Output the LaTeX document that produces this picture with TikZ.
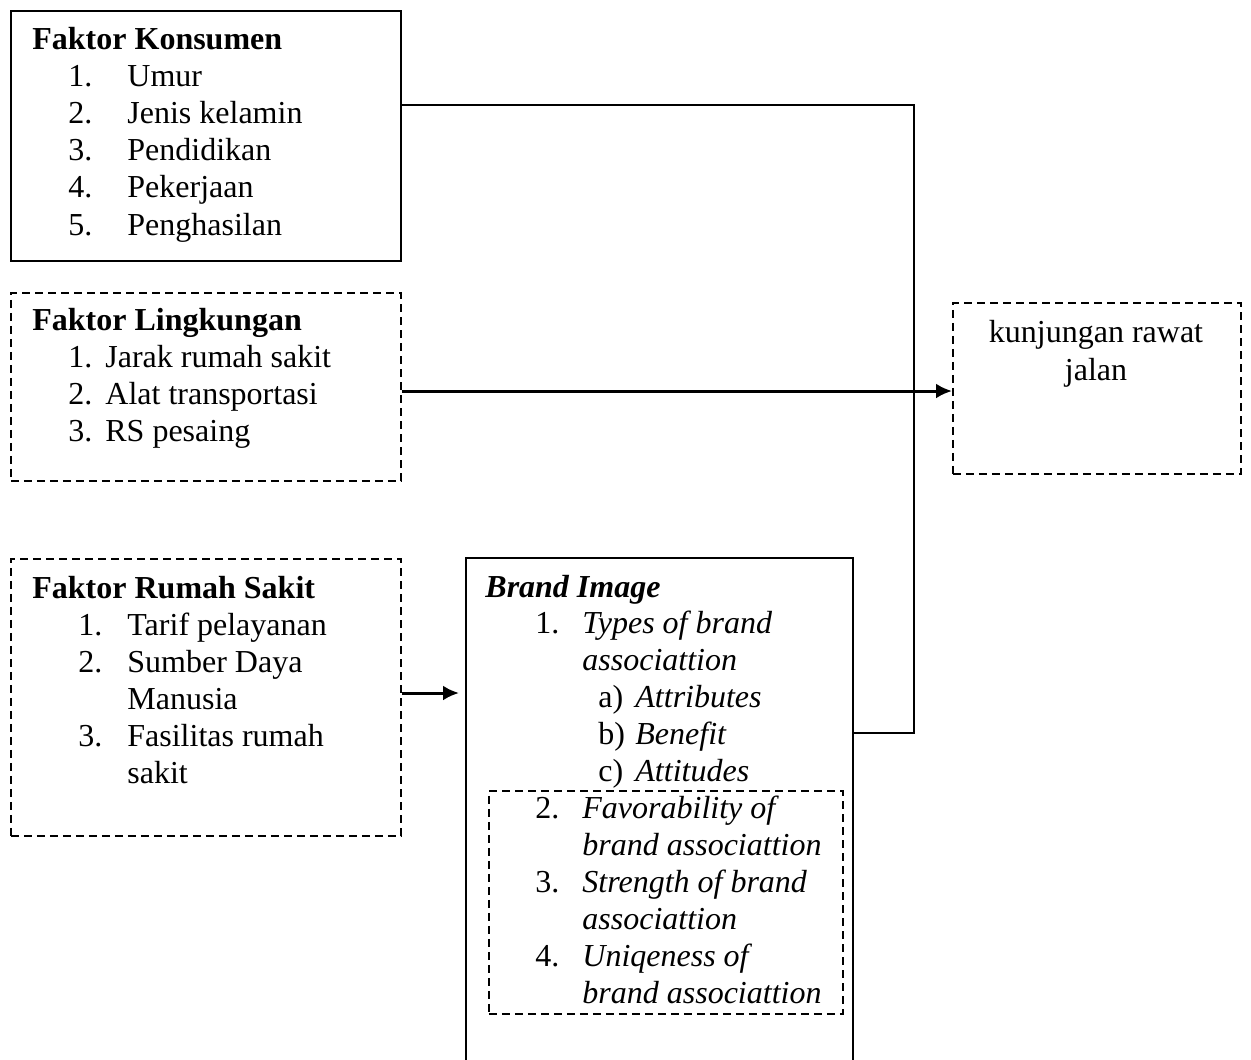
\documentclass[tikz,border=0pt]{standalone}
\usepackage{fontspec}
\setmainfont{Liberation Serif}
\usetikzlibrary{arrows.meta}

\tikzset{
    solidbox/.style={draw, line width=1pt, inner sep=0pt, anchor=north west},
    dashbox/.style={draw, line width=0.8pt, dash pattern=on 4pt off 2.5pt, inner sep=0pt, anchor=north west},
    txt/.style={anchor=base west, inner sep=0pt, font=\fontsize{16}{18.5}\selectfont},
    link/.style={line width=1pt},
    arr/.style={line width=1.5pt, -{Latex[length=8pt,width=7.5pt]}},
}

\begin{document}
\begin{tikzpicture}[x=0.5pt, y=-0.5pt]
        \clip(0,0) rectangle (1251,1059);
        % boxes
        \node[solidbox, minimum width=195pt, minimum height=125pt] (konsumen) at (10,10) {};
        \node[dashbox, minimum width=195pt, minimum height=94pt] (lingkungan) at (10,292) {};
        \node[dashbox, minimum width=195pt, minimum height=138.5pt] (rumahsakit) at (10,558) {};
        \node[solidbox, minimum width=193.5pt, minimum height=270pt] (brand) at (465,557) {};
        \node[dashbox, minimum width=177pt, minimum height=111.5pt] (asosiasi) at (488,790) {};
        \node[dashbox, minimum width=144pt, minimum height=85.5pt] (kunjungan) at (952,302) {};
        % Faktor Konsumen
        \node[txt] (kt) at (32,50) {\textbf{Faktor Konsumen}};
        \foreach \t [count=\i] in {Umur, Jenis kelamin, Pendidikan, Pekerjaan, Penghasilan} {
            \node[txt] (kn\i) at (68,50+37*\i) {\i.};
            \node[txt] (kl\i) at (127,50+37*\i) {\t};
        }
        % Faktor Lingkungan
        \node[txt] (lt) at (32,330) {\textbf{Faktor Lingkungan}};
        \foreach \t [count=\i] in {Jarak rumah sakit, Alat transportasi, RS pesaing} {
            \node[txt] (ln\i) at (68,330+37*\i) {\i.};
            \node[txt] (ll\i) at (105,330+37*\i) {\t};
        }
        % Faktor Rumah Sakit
        \node[txt] (rt) at (32,598) {\textbf{Faktor Rumah Sakit}};
        \node[txt] (rn1) at (78,635) {1.};
        \node[txt] (rl1) at (127,635) {Tarif pelayanan};
        \node[txt] (rn2) at (78,672) {2.};
        \node[txt] (rl2) at (127,672) {Sumber Daya};
        \node[txt] (rl2b) at (127,709) {Manusia};
        \node[txt] (rn3) at (78,746) {3.};
        \node[txt] (rl3) at (127,746) {Fasilitas rumah};
        \node[txt] (rl3b) at (127,783) {sakit};
        % Brand Image
        \node[txt] (bt) at (485,597) {\textbf{\itshape Brand Image}};
        \node[txt] (bn1) at (535,633) {1.};
        \node[txt] (bl1) at (582,633) {\itshape Types of brand};
        \node[txt] (bl1b) at (582,670) {\itshape associattion};
        \node[txt] (ba) at (598,707) {a)};
        \node[txt] (bal) at (635,707) {\itshape Attributes};
        \node[txt] (bb) at (598,744) {b)};
        \node[txt] (bbl) at (635,744) {\itshape Benefit};
        \node[txt] (bc) at (598,781) {c)};
        \node[txt] (bcl) at (635,781) {\itshape Attitudes};
        \node[txt] (bn2) at (535,818) {2.};
        \node[txt] (bl2) at (582,818) {\itshape Favorability of};
        \node[txt] (bl2b) at (582,855) {\itshape brand associattion};
        \node[txt] (bn3) at (535,892) {3.};
        \node[txt] (bl3) at (582,892) {\itshape Strength of brand};
        \node[txt] (bl3b) at (582,929) {\itshape associattion};
        \node[txt] (bn4) at (535,966) {4.};
        \node[txt] (bl4) at (582,966) {\itshape Uniqeness of};
        \node[txt] (bl4b) at (582,1003) {\itshape brand associattion};
        % kunjungan
        \node[txt, anchor=base] (ut1) at (1096,342) {kunjungan rawat};
        \node[txt, anchor=base] (ut2) at (1096,380) {jalan};
        % connectors
        \coordinate (bend) at (914,105);
        \coordinate (join) at (914,733);
        \draw[link] (konsumen.east |- bend) -- (bend) -- (join) -- (join -| brand.east);
        \draw[arr] (lingkungan.east |- 0,391) -- (kunjungan.west |- 0,391);
        \draw[arr] (rumahsakit.east |- 0,693) -- ([xshift=-3pt]brand.west |- 0,693);
    \end{tikzpicture}
\end{document}
